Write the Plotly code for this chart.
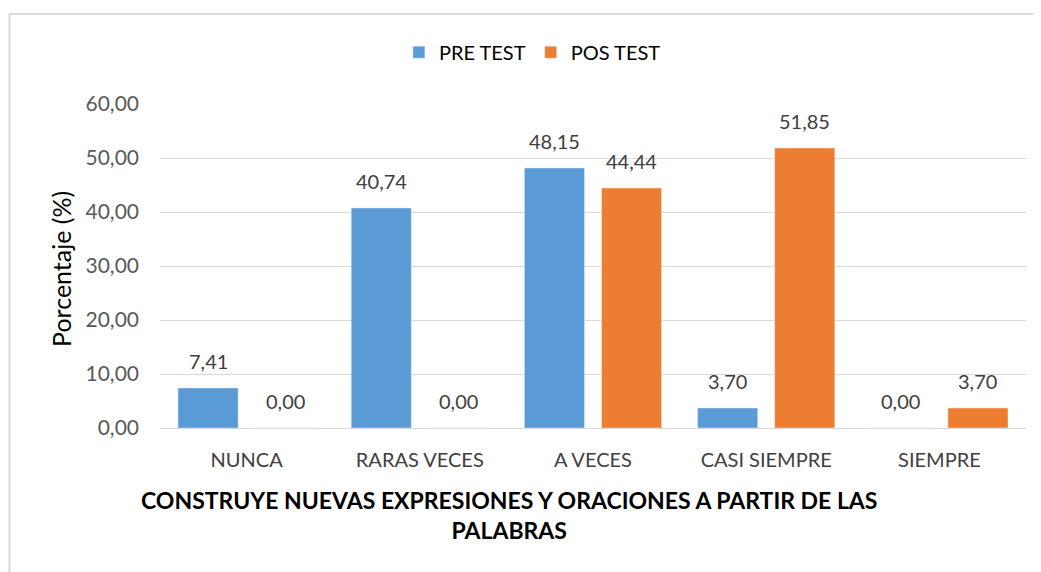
import plotly.graph_objects as go

categories = ["NUNCA", "RARAS VECES", "A VECES", "CASI SIEMPRE", "SIEMPRE"]
pre_test = [7.41, 40.74, 48.15, 3.70, 0.00]
pos_test = [0.00, 0.00, 44.44, 51.85, 3.70]
y_ticks = [0, 10, 20, 30, 40, 50, 60]
y_tick_labels = ["0,00", "10,00", "20,00", "30,00", "40,00", "50,00", "60,00"]
series_names = ["PRE TEST", "POS TEST"]
x_title_lines = ["CONSTRUYE NUEVAS EXPRESIONES Y ORACIONES A PARTIR DE LAS", "PALABRAS"]
y_title = "Porcentaje (%)"

BLUE = "#5B9BD5"
ORANGE = "#ED7D31"
FONT = "Lato, 'Open Sans', sans-serif"

def fmt(v):
    return f"{v:.2f}".replace(".", ",")

fig = go.Figure()
fig.add_trace(go.Bar(x=categories, y=pre_test, name=series_names[0], marker_color=BLUE))
fig.add_trace(go.Bar(x=categories, y=pos_test, name=series_names[1], marker_color=ORANGE))

annotations = []
for vals, shift in ((pre_test, -38.5), (pos_test, 38.5)):
    for c, v in zip(categories, vals):
        annotations.append(dict(x=c, y=v, xref="x", yref="y", text=fmt(v), showarrow=False,
                                xshift=shift, yshift=13, yanchor="bottom",
                                font=dict(family=FONT, size=20, color="#404040")))

annotations.append(dict(x=-0.1143, y=0.491, xref="paper", yref="paper", text=y_title,
                        textangle=-90, showarrow=False, xanchor="center", yanchor="middle",
                        font=dict(family=FONT, size=25, color="#000000")))
annotations.append(dict(x=0.403, y=-0.2685, xref="paper", yref="paper",
                        text="<br>".join(f"<b>{t}</b>" for t in x_title_lines),
                        showarrow=False, xanchor="center", yanchor="middle",
                        font=dict(family=FONT, size=23, color="#000000")))

border = dict(color="#D9D9D9", width=2)
fig.update_layout(
    width=1033, height=564,
    margin=dict(l=152, r=15, t=96, b=144),
    paper_bgcolor="white", plot_bgcolor="white",
    barmode="group", bargap=0.11, bargroupgap=0.22,
    font=dict(family=FONT, size=20, color="#404040"),
    legend=dict(orientation="h", x=0.43, y=1.16, xanchor="center", yanchor="middle",
                font=dict(family=FONT, size=20, color="#000000"), itemwidth=30),
    annotations=annotations,
    shapes=[
        dict(type="line", xref="paper", yref="paper", x0=-0.1738, x1=1.2, y0=1.2778, y1=1.2778,
             line=border, layer="below"),
        dict(type="line", xref="paper", yref="paper", x0=-0.1738, x1=-0.1738, y0=-0.6, y1=1.2778,
             line=border, layer="below"),
    ],
)
fig.update_yaxes(range=[0, 60], tickvals=y_ticks, ticktext=y_tick_labels, showgrid=True,
                 gridcolor="#D9D9D9", gridwidth=1, zeroline=True, zerolinecolor="#D9D9D9",
                 zerolinewidth=1, showline=False, ticklabelstandoff=20,
                 tickfont=dict(family=FONT, size=21, color="#595959"))
fig.update_xaxes(showline=False, showgrid=False, ticks="", ticklabelstandoff=18,
                 tickfont=dict(family=FONT, size=20, color="#404040"))

fig.write_html("out.html")
